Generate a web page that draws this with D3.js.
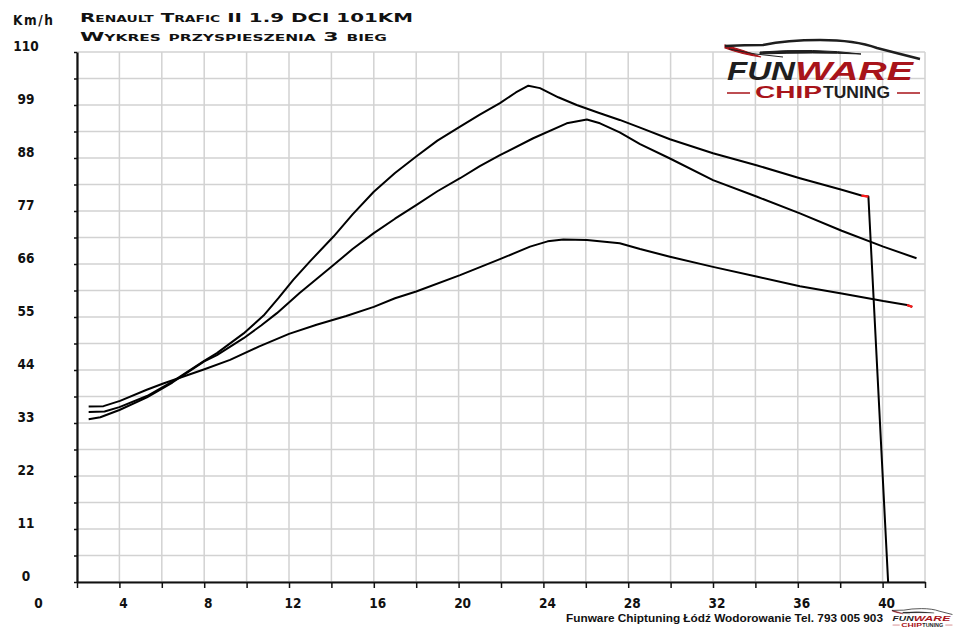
<!DOCTYPE html>
<html lang="pl">

<head>
    <meta charset="utf-8" />
    <title>Renault Trafic II 1.9 DCI - wykres przyspieszenia</title>
    <script src="https://cdn.jsdelivr.net/npm/d3@7"></script>
    <style>
        body { margin: 0; background: #fff; }
        .num {
            font-family: 'DejaVu Sans Condensed', 'DejaVu Sans', sans-serif;
            font-stretch: condensed;
            font-weight: bold;
            font-size: 13.5px;
            fill: #111;
        }
        .title {
            font-family: 'DejaVu Sans', sans-serif;
            font-variant: small-caps;
            font-weight: bold;
            font-size: 11.5px;
            fill: #111;
        }
    </style>
</head>

<body>
    <div id='chart'></div>
</body>
<script>

    const title1 = 'Renault Trafic II 1.9 DCI 101KM',
        title2 = 'Wykres przyspieszenia 3 bieg',
        unitLabel = 'Km/h',
        footer = 'Funware Chiptuning Łódź Wodorowanie Tel. 793 005 903';

    // tick labels / grid steps
    const xLabels = [0, 4, 8, 12, 16, 20, 24, 28, 32, 36, 40];
    const yLabels = [0, 11, 22, 33, 44, 55, 66, 77, 88, 99, 110];
    const xGrid = d3.range(2, 43, 2);
    const yGrid = d3.range(0, 111, 5.5);

    // runs: [time s, speed km/h]
    const runHigh = [[2.55, 35.3], [3.3, 35.4], [4.0, 36.3], [5.3, 38.6], [6.5, 41.6], [8.0, 45.9], [8.6, 47.5],
        [9.86, 51.6], [10.8, 55.3], [11.5, 58.9], [12.2, 62.7], [13.0, 66.6], [14.1, 71.7], [15.0, 76.3], [16.0, 81.0],
        [17.0, 84.9], [18.0, 88.3], [19.0, 91.6], [20.07, 94.5], [21.0, 97.0], [21.95, 99.4], [22.7, 101.6],
        [23.29, 103.0], [23.84, 102.5], [24.7, 100.6], [25.57, 99.0], [26.6, 97.4], [27.6, 95.9], [28.56, 94.3],
        [29.97, 91.9], [32.0, 89.0], [34.05, 86.5], [36.1, 83.8], [38.07, 81.4], [39.0, 80.2], [39.33, 80.0],
        [40.26, 0]];
    const runMid = [[2.55, 33.8], [3.1, 34.2], [4.0, 35.7], [5.3, 38.3], [6.5, 41.4], [8.0, 45.8], [8.6, 47.1],
        [9.86, 50.6], [10.7, 53.3], [11.43, 55.8], [12.5, 60.0], [13.3, 62.9], [14.1, 65.8], [15.0, 69.1],
        [16.0, 72.4], [17.0, 75.4], [18.0, 78.2], [19.0, 81.1], [20.07, 83.8], [21.0, 86.3], [21.95, 88.6],
        [23.52, 92.1], [25.1, 95.2], [26.05, 96.0], [26.67, 95.2], [27.6, 93.3], [28.56, 90.9], [29.97, 87.9],
        [32.0, 83.4], [34.05, 80.0], [36.1, 76.5], [38.07, 72.9], [40.03, 69.6], [41.6, 67.2]];
    const runLow = [[2.55, 36.4], [3.25, 36.5], [4.03, 37.6], [5.29, 39.9], [6.07, 41.2], [7.98, 44.1], [9.22, 46.1],
        [10.6, 48.9], [12.0, 51.5], [13.3, 53.4], [14.7, 55.2], [16.0, 57.1], [17.0, 58.9], [18.0, 60.3],
        [20.07, 63.7], [21.95, 67.0], [23.37, 69.6], [24.2, 70.7], [24.94, 71.1], [26.05, 71.0], [27.6, 70.3],
        [28.56, 69.1], [29.97, 67.5], [32.0, 65.4], [34.05, 63.4], [36.1, 61.4], [38.07, 59.9], [40.03, 58.3],
        [41.15, 57.5], [41.4, 57.1]];

    // red end-of-run markers: run, time from, time to
    const endMarks = [[runHigh, 39.0, 39.33], [runLow, 41.15, 41.4]];

    let width = 960, height = 634;
    let plot = { left: 77, right: 925, top: 52, bottom: 582 };

    let svg = d3.select('#chart')
        .append('svg')
        .attr('width', width)
        .attr('height', height);

    let x = d3.scaleLinear()
        .domain([2, 42])
        .range([plot.left, plot.right]);
    let y = d3.scaleLinear()
        .domain([0, 110])
        .range([plot.bottom, plot.top]);

    // grid
    let grid = svg.append('g').attr('stroke', '#d2d2d2').attr('stroke-width', 1.5);
    grid.selectAll('.vg').data(xGrid).enter().append('line')
        .attr('x1', d => x(d)).attr('x2', d => x(d))
        .attr('y1', plot.top).attr('y2', plot.bottom);
    grid.selectAll('.hg').data(yGrid).enter().append('line')
        .attr('y1', d => y(d)).attr('y2', d => y(d))
        .attr('x1', plot.left).attr('x2', plot.right);

    // axes (ticks only, labels drawn below)
    let xAxis = d3.axisBottom(x).tickValues(xGrid).tickSize(6).tickSizeOuter(0).tickFormat(''),
        yAxis = d3.axisLeft(y).tickValues(yGrid).tickSize(3).tickSizeOuter(0).tickFormat('');

    let gx = svg.append('g')
        .attr('transform', 'translate(0,' + plot.bottom + ')')
        .call(xAxis);
    let gy = svg.append('g')
        .attr('transform', 'translate(' + plot.left + ',0)')
        .call(yAxis);
    [gx, gy].forEach(g => {
        g.selectAll('line').attr('stroke', '#111').attr('stroke-width', 1.5);
        g.select('.domain').attr('stroke', '#111').attr('stroke-width', 2.2);
    });

    svg.selectAll('.xl').data(xLabels).enter().append('text')
        .attr('class', 'num')
        .attr('x', d => x(d) + 4)
        .attr('y', 608)
        .attr('text-anchor', 'middle')
        .text(d => d);
    svg.selectAll('.yl').data(yLabels).enter().append('text')
        .attr('class', 'num')
        .attr('x', 26)
        .attr('y', d => y(d) - 1)
        .attr('text-anchor', 'middle')
        .text(d => d);

    svg.append('text')
        .attr('class', 'num')
        .attr('x', 13).attr('y', 25)
        .attr('font-size', '14px')
        .attr('textLength', 40)
        .text(unitLabel);

    // runs
    let line = d3.line()
        .x(d => x(d[0]))
        .y(d => y(d[1]));

    svg.selectAll('.run')
        .data([runLow, runMid, runHigh])
        .enter().append('path')
        .attr('d', line)
        .attr('fill', 'none')
        .attr('stroke', '#000')
        .attr('stroke-width', 2)
        .attr('stroke-linejoin', 'round');

    svg.selectAll('.mark')
        .data(endMarks)
        .enter().append('path')
        .attr('d', m => line(m[0].filter(p => p[0] >= m[1] && p[0] <= m[2])))
        .attr('fill', 'none')
        .attr('stroke', '#ff1a1a')
        .attr('stroke-width', 2.2);

    // titles
    svg.append('text')
        .attr('class', 'title')
        .attr('x', 80).attr('y', 21.5)
        .attr('textLength', 333)
        .attr('lengthAdjust', 'spacingAndGlyphs')
        .text(title1);
    svg.append('text')
        .attr('class', 'title')
        .attr('x', 80).attr('y', 41)
        .attr('textLength', 307)
        .attr('lengthAdjust', 'spacingAndGlyphs')
        .text(title2);

    svg.append('text')
        .attr('x', 566).attr('y', 622)
        .attr('font-family', 'Liberation Sans, Arial, sans-serif')
        .attr('font-weight', 'bold')
        .attr('font-size', '11px')
        .attr('fill', '#111')
        .attr('textLength', 317)
        .attr('lengthAdjust', 'spacingAndGlyphs')
        .text(footer);

    // logo, drawn in local coords (196 x 60)
    function drawLogo(g) {
        let red = '#a8141a', dark = '#1e1e1e';
        g.append('path')
            .attr('d', 'M0,7 Q18,12 36,19 Q16,16 0,10 Z')
            .attr('fill', red)
            .attr('stroke', red)
            .attr('stroke-width', 1.2);
        g.append('path')
            .attr('d', 'M4,11 Q30,17 58,19')
            .attr('fill', 'none')
            .attr('stroke', dark)
            .attr('stroke-width', 1);
        g.append('path')
            .attr('d', 'M0,8 Q20,7 38,7 Q62,2 95,2 Q130,2 152,10 Q175,16 195,21')
            .attr('fill', 'none')
            .attr('stroke', dark)
            .attr('stroke-width', 2.4);
        g.append('path')
            .attr('d', 'M35,14 Q90,10 136,16 Q90,14 35,16 Z')
            .attr('fill', dark)
            .attr('stroke', dark)
            .attr('stroke-width', 1);
        let font = g.append('g')
            .attr('font-family', 'Liberation Sans, Arial, sans-serif')
            .attr('font-weight', 'bold')
            .attr('font-style', 'italic');
        font.append('text').attr('x', 2).attr('y', 42).attr('font-size', '25px')
            .attr('fill', dark).attr('textLength', 68).attr('lengthAdjust', 'spacingAndGlyphs').text('FUN');
        font.append('text').attr('x', 70).attr('y', 42).attr('font-size', '25px')
            .attr('fill', red).attr('textLength', 118).attr('lengthAdjust', 'spacingAndGlyphs').text('WARE');
        let sub = g.append('g')
            .attr('font-family', 'Liberation Sans, Arial, sans-serif')
            .attr('font-weight', 'bold');
        sub.append('text').attr('x', 30).attr('y', 60).attr('font-size', '17px')
            .attr('fill', red).attr('textLength', 67).attr('lengthAdjust', 'spacingAndGlyphs').text('CHIP');
        sub.append('text').attr('x', 98).attr('y', 60).attr('font-size', '17px')
            .attr('fill', dark).attr('textLength', 67).attr('lengthAdjust', 'spacingAndGlyphs').text('TUNING');
        g.append('path')
            .attr('d', 'M2,55 H25 M172,55 H195')
            .attr('stroke', red)
            .attr('stroke-width', 1.5);
    }

    drawLogo(svg.append('g').attr('transform', 'translate(725,38)'));
    drawLogo(svg.append('g').attr('transform', 'translate(892,608) scale(0.31)'));

</script>

</html>
